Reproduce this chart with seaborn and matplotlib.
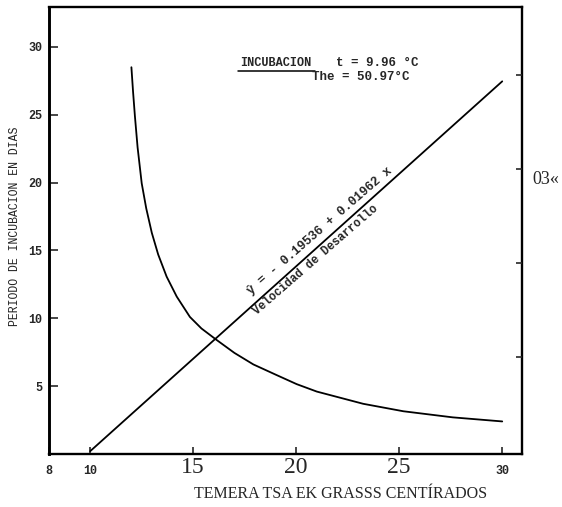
import matplotlib
matplotlib.use("Agg")
import matplotlib.pyplot as plt
import seaborn as sns
import pandas as pd

# ---- data ----
temp_incub = [12.0, 12.08, 12.17, 12.3, 12.5, 12.72, 12.99, 13.3, 13.71, 14.2,
              14.84, 15.4, 16.14, 17.0, 17.92, 19.0, 20.02, 21.0, 23.25,
              25.2, 27.6, 30.0]
days_incub = [28.5, 26.7, 24.9, 22.6, 19.95, 18.1, 16.3, 14.7, 13.07, 11.6,
              10.1, 9.25, 8.4, 7.45, 6.6, 5.85, 5.15, 4.6, 3.7,
              3.15, 2.7, 2.4]

temp_rate = [10.0, 30.0]
rate_vals = [0.0, 0.393]

x_ticks = [8, 10, 15, 20, 25, 30]
x_tick_labels = ["8", "10", "15", "20", "25", "30"]
big_x_labels = ["15", "20", "25"]
y_ticks = [5, 10, 15, 20, 25, 30]
y_tick_labels = ["5", "10", "15", "20", "25", "30"]
right_ticks = [0.1, 0.2, 0.3, 0.4]

y_label = "PERIODO DE INCUBACION EN DIAS"
x_label = "TEMERA TSA EK GRASSS CENTÍRADOS"
right_label = "03«"
incub_title = "INCUBACION"
incub_t = "t = 9.96 °C"
incub_the = "The = 50.97°C"
eq_text = "ŷ = - 0.19536 + 0.01962 x"
vel_text = "Velocidad de Desarrollo"

sns.set_style("white")
plt.rcParams['font.family'] = ['Liberation Mono', 'DejaVu Sans Mono']

W, H = 562, 507
fig = plt.figure(figsize=(W / 100, H / 100), dpi=100)
L, R, T, B = 49, 522, 7, 454
ax = fig.add_axes([L / W, 1 - B / H, (R - L) / W, (B - T) / H])

df_inc = pd.DataFrame({"temp": temp_incub, "days": days_incub})
sns.lineplot(data=df_inc, x="temp", y="days", ax=ax, color="black",
             lw=1.3, sort=False, estimator=None)
ax.set_xlim(8, 30.96)
ax.set_ylim(0, 32.94)

ax2 = ax.twinx()
df_rate = pd.DataFrame({"temp": temp_rate, "rate": rate_vals})
sns.lineplot(data=df_rate, x="temp", y="rate", ax=ax2, color="black",
             lw=1.3, estimator=None)
ax2.set_ylim(-0.003, 0.472)
ax2.set_ylabel("")
for s in ax2.spines.values():
    s.set_visible(False)
ax2.set_yticks(right_ticks)
ax2.tick_params(axis="y", direction="in", length=4.5, width=1.2,
                labelright=False, right=True)

for name, s in ax.spines.items():
    s.set_visible(True)
    s.set_color("black")
    s.set_linewidth(1.7)
ax.spines["left"].set_linewidth(2.1)

ax.set_xticks(x_ticks)
ax.set_xticklabels(x_tick_labels)
ax.set_yticks(y_ticks)
ax.set_yticklabels(y_tick_labels, fontsize=8.5, fontweight="bold")
ax.tick_params(axis="y", direction="in", length=6.5, width=1.2, pad=5,
               left=True)
ax.tick_params(axis="x", direction="in", length=5, width=1.2, bottom=True)

for tick, lab in zip(ax.xaxis.get_major_ticks(), x_tick_labels):
    if lab in big_x_labels:
        tick.label1.set_fontfamily("Liberation Serif")
        tick.label1.set_fontsize(17)
        tick.set_pad(2.5)
    else:
        tick.label1.set_fontfamily(["Liberation Mono", "DejaVu Sans Mono"])
        tick.label1.set_fontsize(8.5)
        tick.label1.set_fontweight("bold")
        tick.set_pad(8)

ax.set_xlabel(x_label, fontfamily="Liberation Serif", fontsize=11.5)
ax.xaxis.set_label_coords((341 - L) / (R - L), (B - 486) / (B - T))
ax.set_ylabel(y_label, fontsize=8.3, color="#222222")
ax.yaxis.set_label_coords((21 - L) / (R - L), (B - 226) / (B - T))


def axfrac(px, py):
    return (px - L) / (R - L), (B - py) / (B - T)


fx, fy = axfrac(240, 63)
ax.text(fx, fy, incub_title, transform=ax.transAxes, fontsize=8.6,
        fontweight="bold", ha="left", va="center")
fx, fy = axfrac(336, 63)
ax.text(fx, fy, incub_t, transform=ax.transAxes, fontsize=9,
        fontweight="bold", ha="left", va="center")
fx, fy = axfrac(312, 77)
ax.text(fx, fy, incub_the, transform=ax.transAxes, fontsize=9,
        fontweight="bold", ha="left", va="center")
ax.axhline((B - 71) / 13.57, xmin=(238 - L) / (R - L), xmax=(315 - L) / (R - L),
           color="black", lw=1.1)

fx, fy = axfrac(320, 231)
ax.text(fx, fy, eq_text, transform=ax.transAxes, fontsize=9,
        fontweight="bold", rotation=41, rotation_mode="anchor",
        ha="center", va="center")
fx, fy = axfrac(316, 260)
ax.text(fx, fy, vel_text, transform=ax.transAxes, fontsize=8.4,
        fontweight="bold", rotation=41, rotation_mode="anchor",
        ha="center", va="center")

fig.text(532 / W, 1 - 180 / H, right_label, fontfamily="Liberation Serif",
         fontsize=13, ha="left", va="center")

fig.savefig("out.png", dpi=100)
